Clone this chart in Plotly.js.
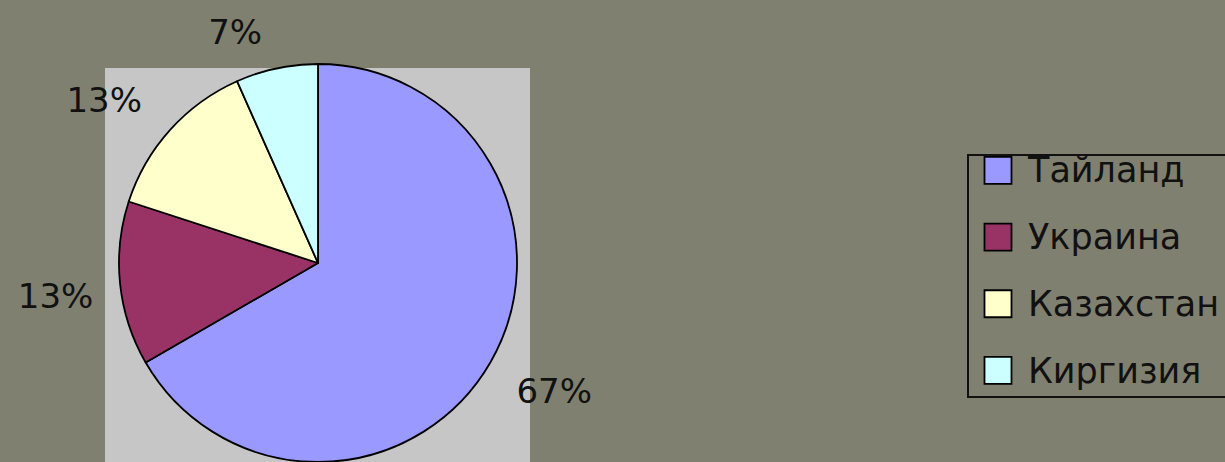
<!DOCTYPE html>
<html>
<head>
<meta charset="utf-8">
<script src="https://cdn.plot.ly/plotly-3.0.1.min.js"></script>
<style>
  html, body { margin: 0; padding: 0; background: #808070; }
  #chart { width: 1225px; height: 462px; }
</style>
</head>
<body>
<div id="chart"></div>
<script>
// Data
const countries = ["Тайланд", "Украина", "Казахстан", "Киргизия"];
const counts = [10, 2, 2, 1];
const sliceColors = ["#9999ff", "#993366", "#ffffcc", "#ccffff"];

const W = 1225, H = 462;
const NB = "\u00a0", TS = "\u2009";
const big = s => '<span style="font-size:34px">' + s + '</span>';
const PCT = "%{percent:.0%}";
// label padding (style only): blank lines / spaces push labels further out like the original
const labelTemplates = [
  NB + "<br>" + big(TS + PCT),        // Тайланд
  NB + "<br>" + big(PCT + NB),        // Украина
  big(PCT + NB) + "<br>" + NB,        // Казахстан
  big(PCT) + "<br>" + NB              // Киргизия
];
const labelBaseSizes = [31, 25, 24, 17];

const legendLabels = countries.map(c => '<span style="font-size:35px">' + c + '</span>');

const trace = {
  type: "pie",
  labels: legendLabels,
  values: counts,
  sort: false,
  direction: "clockwise",
  rotation: 0,
  marker: { colors: sliceColors, line: { color: "#000000", width: 1.8 } },
  textposition: "outside",
  texttemplate: labelTemplates,
  outsidetextfont: { family: "DejaVu Sans", size: labelBaseSizes, color: "#111111" },
  hoverinfo: "none",
  domain: { x: [118 / W, 518 / W], y: [0, 398 / H] }
};

const layout = {
  width: W, height: H,
  margin: { l: 0, r: 0, t: 0, b: 0, autoexpand: false },
  paper_bgcolor: "#808070",
  plot_bgcolor: "#808070",
  showlegend: true,
  legend: {
    x: 978 / W, xanchor: "left",
    y: 1 - 125 / H, yanchor: "top",
    bgcolor: "rgba(0,0,0,0)",
    borderwidth: 0,
    font: { family: "DejaVu Sans", size: 49, color: "#111111" },
    itemwidth: 40,
    traceorder: "normal"
  },
  shapes: [
    { type: "rect", xref: "paper", yref: "paper", layer: "below",
      x0: 105 / W, x1: 530 / W, y0: 0, y1: 1 - 68 / H,
      fillcolor: "#c6c6c6", line: { width: 0 } },
    { type: "rect", xref: "paper", yref: "paper", layer: "above",
      x0: 968 / W, x1: 1240 / W, y0: 1 - 397 / H, y1: 1 - 155 / H,
      fillcolor: "rgba(0,0,0,0)", line: { color: "#111111", width: 2 } }
  ]
};

const gd = document.getElementById("chart");
function enlargeLegendMarkers() {
  gd.querySelectorAll("path.legendpie").forEach(p => {
    p.setAttribute("transform", "translate(20,7) scale(2.25)");
    p.style.strokeWidth = "0.8px";
  });
}
Plotly.newPlot(gd, [trace], layout, { displayModeBar: false, staticPlot: true }).then(() => {
  enlargeLegendMarkers();
  gd.on && gd.on("plotly_afterplot", enlargeLegendMarkers);
});
</script>
</body>
</html>
